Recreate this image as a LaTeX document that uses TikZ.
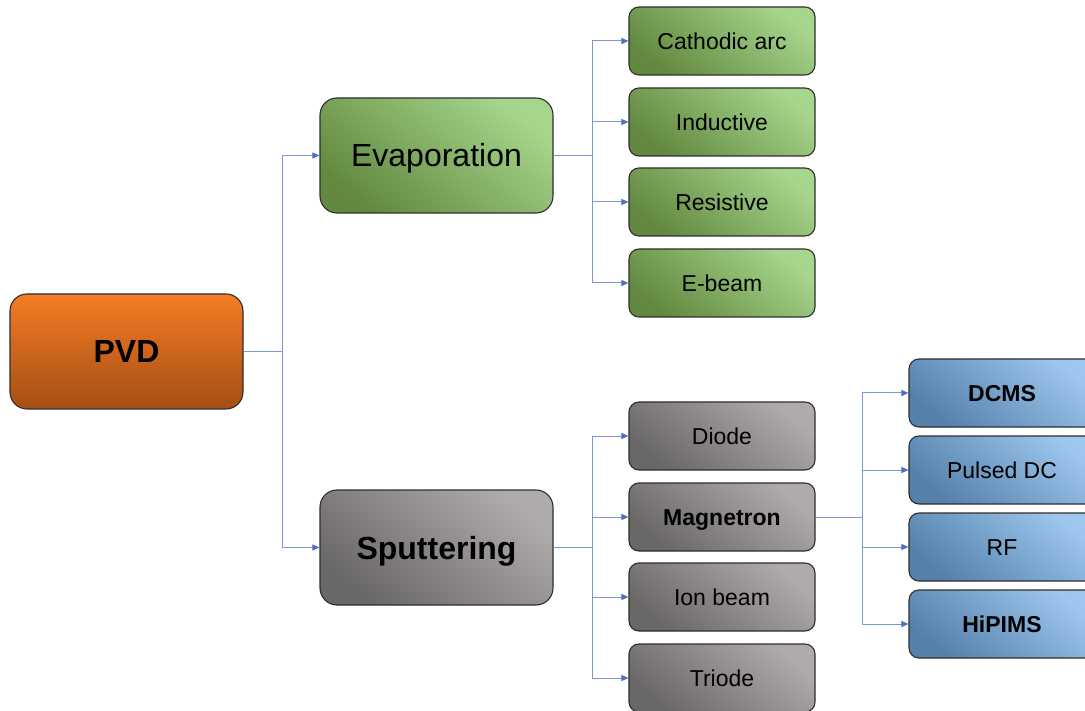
\documentclass[tikz,border=0pt]{standalone}
\usepackage{fontspec}
\setmainfont{Liberation Sans}
\usetikzlibrary{arrows.meta}
\definecolor{lnc}{HTML}{7B98D2}
\definecolor{arc}{HTML}{4A72C0}
\definecolor{grL}{HTML}{A6D58C}
\definecolor{grD}{HTML}{62893F}
\definecolor{orL}{HTML}{F57C25}
\definecolor{orD}{HTML}{A44E14}
\definecolor{gyL}{HTML}{AFABAA}
\definecolor{gyD}{HTML}{6A6767}
\definecolor{blL}{HTML}{9DC7EE}
\definecolor{blD}{HTML}{5480AA}
\definecolor{bord}{HTML}{2E2E2E}
\tikzset{
  base/.style={draw=bord, line width=1.1pt, align=center, text=black, inner sep=0pt, text depth=0pt},
  bigbox/.style={base, rounded corners=17pt, minimum width=233pt, minimum height=115pt, text height=23pt},
  smallbox/.style={base, rounded corners=10pt, minimum width=186pt, minimum height=68pt, text height=16.5pt},
  greenfill/.style={top color=grL, bottom color=grD, shading angle=-40},
  grayfill/.style={top color=gyL, bottom color=gyD, shading angle=-40},
  bluefill/.style={top color=blL, bottom color=blD, shading angle=-40},
  orangefill/.style={top color=orL, bottom color=orD},
  bigtxt/.style={font=\fontsize{32}{36}\selectfont},
  smalltxt/.style={font=\fontsize{23}{26}\selectfont},
  conn/.style={draw=lnc, line width=1pt},
  arr/.style={conn, -{Triangle[length=7pt,width=6pt,color=arc]}}
}
\begin{document}
\begin{tikzpicture}[x=1pt,y=-1pt]
\useasboundingbox (0,0) rectangle (1085,711);
\clip (0,0) rectangle (1085,711);
% main nodes
\node[bigbox, orangefill, bigtxt] (pvd) at (126.5,351.5) {\bfseries PVD};
\node[bigbox, greenfill, bigtxt] (evap) at (436.5,155.5) {Evaporation};
\node[bigbox, grayfill, bigtxt] (sput) at (436.5,547.5) {\bfseries Sputtering};
% evaporation children
\node[smallbox, greenfill, smalltxt] (cat) at (722,41) {Cathodic arc};
\node[smallbox, greenfill, smalltxt] (ind) at (722,122) {Inductive};
\node[smallbox, greenfill, smalltxt] (res) at (722,202) {Resistive};
\node[smallbox, greenfill, smalltxt] (ebm) at (722,283) {E-beam};
% sputtering children
\node[smallbox, grayfill, smalltxt] (dio) at (722,436) {Diode};
\node[smallbox, grayfill, smalltxt] (mag) at (722,517) {\bfseries Magnetron};
\node[smallbox, grayfill, smalltxt] (ion) at (722,597) {Ion beam};
\node[smallbox, grayfill, smalltxt] (tri) at (722,678) {Triode};
% magnetron children
\node[smallbox, bluefill, smalltxt] (dcm) at (1002,393) {\bfseries DCMS};
\node[smallbox, bluefill, smalltxt] (pdc) at (1002,470) {Pulsed DC};
\node[smallbox, bluefill, smalltxt] (rf) at (1002,547) {RF};
\node[smallbox, bluefill, smalltxt] (hip) at (1002,624) {\bfseries HiPIMS};
% junctions
\coordinate (j1) at (282,351.5);
\coordinate (j2) at (592,155.5);
\coordinate (j3) at (592,547.5);
\coordinate (j4) at (862,517);
% connectors
\draw[conn] (pvd.east) -- (j1);
\draw[arr] (j1) |- (evap.west);
\draw[arr] (j1) |- (sput.west);
\draw[conn] (evap.east) -- (j2);
\foreach \n in {cat,ind,res,ebm} \draw[arr] (j2) |- (\n.west);
\draw[conn] (sput.east) -- (j3);
\foreach \n in {dio,mag,ion,tri} \draw[arr] (j3) |- (\n.west);
\draw[conn] (mag.east) -- (j4);
\foreach \n in {dcm,pdc,rf,hip} \draw[arr] (j4) |- (\n.west);
\end{tikzpicture}
\end{document}
